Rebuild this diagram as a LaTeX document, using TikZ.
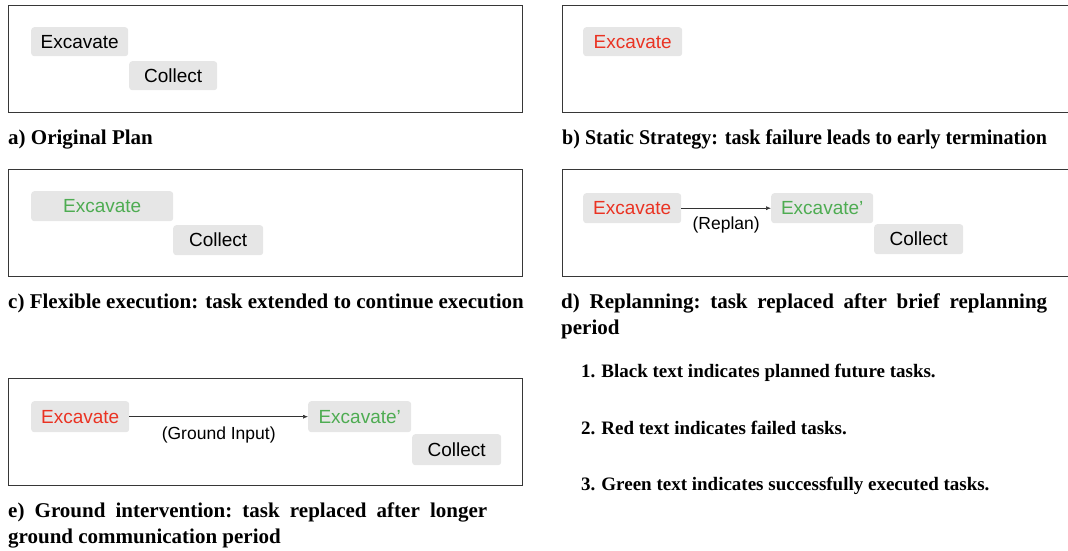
\documentclass[tikz,border=0pt]{standalone}
\usepackage{graphicx}
\usepackage{fontspec}
\setmainfont{Liberation Serif}
\setsansfont{Liberation Sans}
\usetikzlibrary{arrows.meta}

\definecolor{failred}{RGB}{234,51,35}
\definecolor{donegreen}{RGB}{78,172,82}
\definecolor{taskfill}{RGB}{230,230,230}
\definecolor{framegray}{RGB}{55,55,55}

\tikzset{
  panel/.style={draw=framegray,line width=0.8pt},
  task/.style={anchor=north west,fill=taskfill,rounded corners=3pt,inner sep=0pt,
    minimum height=30pt,font=\sffamily\fontsize{19}{22}\selectfont},
  failed/.style={text=failred},
  done/.style={text=donegreen},
  flow/.style={-{Latex[length=5pt,width=4pt]},line width=0.6pt,draw=black!80},
  lbl/.style={inner sep=0pt,font=\sffamily\fontsize{17.5}{20}\selectfont},
  capt/.style={anchor=base west,inner sep=0pt,font=\bfseries\fontsize{21}{26}\selectfont},
  note/.style={anchor=base west,inner sep=0pt,font=\bfseries\fontsize{19}{23}\selectfont}
}

\begin{document}
\begin{tikzpicture}[x=1pt,y=-1pt]
\useasboundingbox (0,0) rectangle (1068,551);

% a) original plan
\draw[panel] (8,5) rectangle (522,112);
\node[task,minimum width=97pt,minimum height=29pt] (exA) at (31,27) {Excavate};
\node[task,minimum width=88pt,minimum height=29pt] (colA) at (129,61) {Collect};
\node[capt] (capA) at (8,144) {a) Original Plan};

% b) static strategy
\draw[panel] (562,5) rectangle (1069,112);
\node[task,failed,minimum width=99pt,minimum height=29pt] (exB) at (583,27) {Excavate};
\node[capt] (capB) at (562,144) {\scalebox{0.955}[1]{b) Static Strategy: task failure leads to early termination}};

% c) flexible execution
\draw[panel] (8,169) rectangle (522,276);
\node[task,done,minimum width=142pt] (exC) at (31,191) {Excavate};
\node[task,minimum width=90pt] (colC) at (173,225) {Collect};
\node[capt] (capC) at (8,308) {c) Flexible execution: task extended to continue execution};

% d) replanning
\draw[panel] (562,169) rectangle (1069,276);
\node[task,failed,minimum width=98pt] (exD) at (583,193) {Excavate};
\node[task,done,minimum width=102pt] (exDnew) at (771,193) {Excavate'};
\node[task,minimum width=89pt] (colD) at (874,224) {Collect};
\draw[flow] (exD) -- (exDnew) node[lbl,midway,below=8.5pt] (replan) {(Replan)};
\node[capt] (capD) at (561,308) {\frenchspacing\makebox[486pt][s]{d) Replanning: task replaced after brief replanning}};
\node[capt] (capDb) at (561,334) {period};

% e) ground intervention
\draw[panel] (8,378) rectangle (522,485);
\node[task,failed,minimum width=98pt,minimum height=31pt] (exE) at (31,401) {Excavate};
\node[task,done,minimum width=103pt,minimum height=31pt] (exEnew) at (308,401) {Excavate'};
\node[task,minimum width=89pt,minimum height=31pt] (colE) at (412,434) {Collect};
\draw[flow] (exE) -- (exEnew) node[lbl,midway,below=9.5pt] (ground) {(Ground Input)};
\node[capt] (capE) at (8,517) {\frenchspacing\makebox[479pt][s]{e) Ground intervention: task replaced after longer}};
\node[capt] (capEb) at (8,543) {ground communication period};

% legend
\node[note] (noteA) at (581,377) {1.\hspace{6pt}Black text indicates planned future tasks.};
\node[note] (noteB) at (581,434) {2.\hspace{6pt}Red text indicates failed tasks.};
\node[note] (noteC) at (581,490) {3.\hspace{6pt}Green text indicates successfully executed tasks.};
\end{tikzpicture}
\end{document}
